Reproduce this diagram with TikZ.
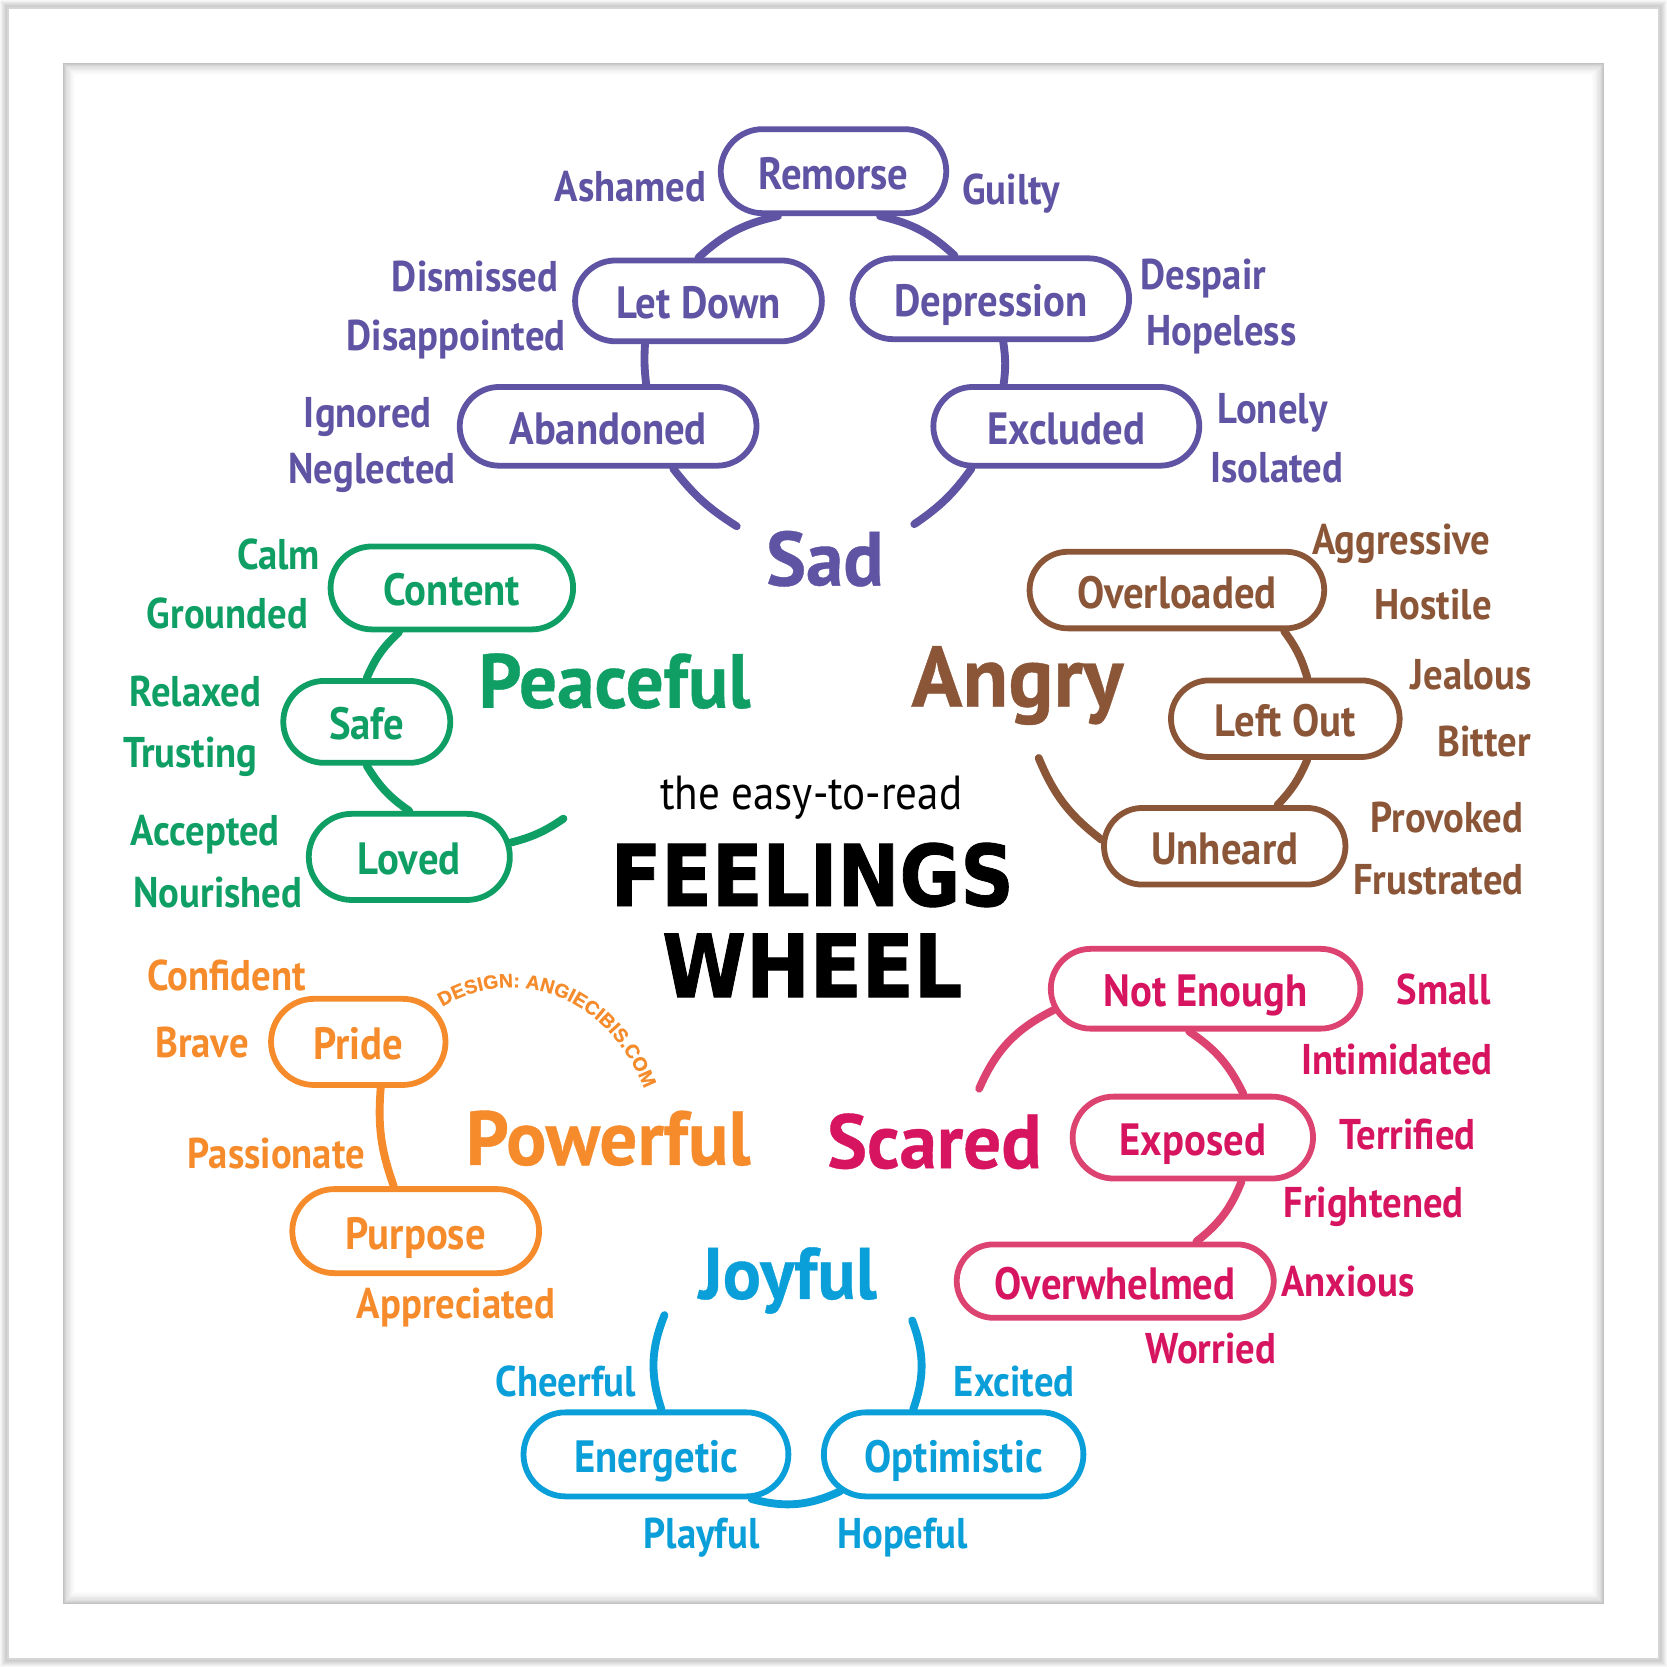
\documentclass[tikz,border=0pt]{standalone}
\usepackage{fontspec}
\usepackage{xcolor}
\usetikzlibrary{shapes.misc, positioning, decorations.text}
\setmainfont[FakeStretch=0.9]{PT Sans}
\newfontfamily\bigfont[FakeStretch=0.98,FakeBold=0.5]{PT Sans Bold}
\newfontfamily\titlefont[FakeStretch=0.87,FakeBold=1]{DejaVu Sans Bold}
\newfontfamily\creditfont[FakeBold=0.6]{Liberation Sans Bold}
\definecolor{sadc}{HTML}{5F53A3}
\definecolor{peacec}{HTML}{0F9F65}
\definecolor{angryc}{HTML}{8B5638}
\definecolor{scaredc}{HTML}{D6145F}
\definecolor{scaredl}{HTML}{DC4370}
\definecolor{joyc}{HTML}{0A9FD8}
\definecolor{powerc}{HTML}{F68B2C}
\tikzset{
  pill/.style={rounded rectangle, draw, line width=1.55pt, inner sep=0pt, text height=9.6pt, text depth=0pt, font=\fontsize{12.1}{14}\selectfont\bfseries},
  word/.style={inner sep=0pt, text height=7.6pt, text depth=0pt, font=\fontsize{11.5}{14}\selectfont\bfseries},
  big/.style={inner sep=0pt, text height=13.5pt, text depth=0pt, font=\bigfont\fontsize{20.5}{24}\selectfont},
  arcline/.style={line width=2.1pt, line cap=round}
}
\begin{document}
\begin{tikzpicture}[x=0.01cm, y=0.01cm]
\useasboundingbox (0,-1568) rectangle (1568,0);
% Paper and frame shadows
\fill[white] (0,-1568) rectangle (1568,0);
\foreach \i/\k in {0/3,1/6,2/9,3/12,4/15,5/18,6/20,7/16} {
  \draw[black!\k, line width=0.3pt] (\i+0.5,-\i-0.5) rectangle (1567.5-\i,-1567.5+\i);
}
\foreach \i/\k in {0/24,1/20,2/16,3/13,4/10,5/8,6/6,7/4,8/3,9/2,10/1} {
  \draw[black!\k, line width=0.3pt] (60+\i,-60-\i) rectangle (1508-\i,-1508+\i);
}

% Sad
\node[pill, sadc, text=sadc, minimum width=2.12cm, minimum height=0.79cm] (remorse) at (784,-161) {Remorse};
\node[pill, sadc, text=sadc, minimum width=2.32cm, minimum height=0.76cm] (letdown) at (657,-283) {Let Down};
\node[pill, sadc, text=sadc, minimum width=2.60cm, minimum height=0.76cm] (depression) at (932,-281) {Depression};
\node[pill, sadc, text=sadc, minimum width=2.79cm, minimum height=0.74cm] (abandoned) at (572,-401) {Abandoned};
\node[pill, sadc, text=sadc, minimum width=2.50cm, minimum height=0.74cm] (excluded) at (1003,-401) {Excluded};
\coordinate (sadleft) at (693,-495);
\coordinate (sadright) at (860,-493);
\draw[arcline, sadc] (remorse.219) to[bend right=15] (letdown.north);
\draw[arcline, sadc] (remorse.316) to[bend left=15] (depression.130);
\draw[arcline, sadc] (letdown.219) to[bend right=5] (abandoned.48);
\draw[arcline, sadc] (depression.286) to[bend left=8] (excluded.146);
\draw[arcline, sadc] (abandoned.327) to[bend right=10] (sadleft);
\draw[arcline, sadc] (excluded.204) to[bend left=10] (sadright);
\node[big, text=sadc] (sad) at (776,-527) {Sad};
\node[word, text=sadc] (ashamed) at (593,-176) {Ashamed};
\node[word, text=sadc] (guilty) at (951,-179) {Guilty};
\node[word, text=sadc] (dismissed) at (447,-261) {Dismissed};
\node[word, text=sadc] (disappointed) at (429,-316) {Disappointed};
\node[word, text=sadc] (despair) at (1132,-259) {Despair};
\node[word, text=sadc] (hopeless) at (1149,-312) {Hopeless};
\node[word, text=sadc] (ignored) at (346,-389) {Ignored};
\node[word, text=sadc] (neglected) at (350,-441) {Neglected};
\node[word, text=sadc] (lonely) at (1197,-385) {Lonely};
\node[word, text=sadc] (isolated) at (1201,-440) {Isolated};

% Peaceful
\node[pill, peacec, text=peacec, minimum width=2.28cm, minimum height=0.78cm] (content) at (425,-553) {Content};
\node[pill, peacec, text=peacec, minimum width=1.57cm, minimum height=0.77cm] (safe) at (345,-679) {Safe};
\node[pill, peacec, text=peacec, minimum width=1.89cm, minimum height=0.81cm] (loved) at (385,-806) {Loved};
\coordinate (peacefree) at (530,-770);
\draw[arcline, peacec] (content.220) to[bend right=12] (safe.north);
\draw[arcline, peacec] (safe.south) to[bend right=12] (loved.north);
\draw[arcline, peacec] (loved.8) to[bend right=10] (peacefree);
\node[big, text=peacec] (peaceful) at (578,-642) {Peaceful};
\node[word, text=peacec] (calm) at (262,-522) {Calm};
\node[word, text=peacec] (grounded) at (214,-578) {Grounded};
\node[word, text=peacec] (relaxed) at (184,-651) {Relaxed};
\node[word, text=peacec] (trusting) at (179,-709) {Trusting};
\node[word, text=peacec] (accepted) at (193,-782) {Accepted};
\node[word, text=peacec] (nourished) at (205,-840) {Nourished};

% Angry
\node[pill, angryc, text=angryc, minimum width=2.77cm, minimum height=0.72cm] (overloaded) at (1107,-555) {Overloaded};
\node[pill, angryc, text=angryc, minimum width=2.15cm, minimum height=0.72cm] (leftout) at (1209,-676) {Left Out};
\node[pill, angryc, text=angryc, minimum width=2.27cm, minimum height=0.72cm] (unheard) at (1152,-796) {Unheard};
\coordinate (angryfree) at (977,-713);
\draw[arcline, angryc] (overloaded.339) to[bend left=10] (leftout.62);
\draw[arcline, angryc] (leftout.298) to[bend left=10] (unheard.38);
\draw[arcline, angryc] (unheard.177) to[bend left=15] (angryfree);
\node[big, text=angryc, font=\bigfont\fontsize{23}{26}\selectfont] (angry) at (957,-641) {Angry};
\node[word, text=angryc] (aggressive) at (1318,-508) {Aggressive};
\node[word, text=angryc] (hostile) at (1348,-569) {Hostile};
\node[word, text=angryc] (jealous) at (1384,-635) {Jealous};
\node[word, text=angryc] (bitter) at (1396,-698) {Bitter};
\node[word, text=angryc] (provoked) at (1361,-770) {Provoked};
\node[word, text=angryc] (frustrated) at (1353,-828) {Frustrated};

% Scared
\node[pill, scaredl, text=scaredc, minimum width=2.91cm, minimum height=0.75cm] (notenough) at (1134,-930) {Not Enough};
\node[pill, scaredl, text=scaredc, minimum width=2.26cm, minimum height=0.77cm] (exposed) at (1122,-1070) {Exposed};
\node[pill, scaredl, text=scaredc, minimum width=2.98cm, minimum height=0.69cm] (overwhelmed) at (1049,-1205) {Overwhelmed};
\coordinate (scaredfree) at (921,-1024);
\draw[arcline, scaredl] (notenough.188) to[bend right=20] (scaredfree);
\draw[arcline, scaredl] (notenough.249) to[bend left=15] (exposed.41);
\draw[arcline, scaredl] (exposed.318) to[bend left=15] (overwhelmed.26);
\node[big, text=scaredc] (scared) at (879,-1075) {Scared};
\node[word, text=scaredc] (small) at (1358,-931) {Small};
\node[word, text=scaredc] (intimidated) at (1314,-997) {Intimidated};
\node[word, text=scaredc] (terrified) at (1324,-1068) {Terrified};
\node[word, text=scaredc] (frightened) at (1292,-1132) {Frightened};
\node[word, text=scaredc] (anxious) at (1268,-1206) {Anxious};
\node[word, text=scaredc] (worried) at (1139,-1269) {Worried};

% Joyful
\node[pill, joyc, text=joyc, minimum width=2.49cm, minimum height=0.79cm] (energetic) at (617,-1368) {Energetic};
\node[pill, joyc, text=joyc, minimum width=2.44cm, minimum height=0.79cm] (optimistic) at (897,-1368) {Optimistic};
\coordinate (joyleft) at (625,-1237);
\coordinate (joyright) at (858,-1242);
\draw[arcline, joyc] (joyleft) to[bend right=20] (energetic.83);
\draw[arcline, joyc] (energetic.335) to[bend right=20] (optimistic.198);
\draw[arcline, joyc] (optimistic.132) to[bend right=20] (joyright);
\node[big, text=joyc, font=\bigfont\fontsize{19.5}{24}\selectfont] (joyful) at (741,-1198) {Joyful};
\node[word, text=joyc] (cheerful) at (532,-1300) {Cheerful};
\node[word, text=joyc] (excited) at (954,-1300) {Excited};
\node[word, text=joyc] (playful) at (660,-1443) {Playful};
\node[word, text=joyc] (hopeful) at (849,-1443) {Hopeful};

% Powerful
\node[pill, powerc, text=powerc, minimum width=1.64cm, minimum height=0.81cm] (pride) at (337,-980) {Pride};
\node[pill, powerc, text=powerc, minimum width=2.32cm, minimum height=0.79cm] (purpose) at (391,-1158) {Purpose};
\draw[arcline, powerc] (pride.296) to[bend right=12] (purpose.116);
\node[big, text=powerc] (powerful) at (572,-1072) {Powerful};
\node[word, text=powerc] (confident) at (213,-918) {Confident};
\node[word, text=powerc] (brave) at (190,-981) {Brave};
\node[word, text=powerc] (passionate) at (260,-1086) {Passionate};
\node[word, text=powerc] (appreciated) at (429,-1227) {Appreciated};

% Title
\node[inner sep=0pt, font=\fontsize{12.8}{15}\selectfont] (easy) at (763,-750) {the easy-to-read};
\node[inner sep=0pt, font=\titlefont\fontsize{22.8}{26}\selectfont] (feelings) at (764,-823) {FEELINGS};
\node[inner sep=0pt, font=\titlefont\fontsize{23.4}{26}\selectfont] (wheel) at (764,-908) {WHEEL};

% Credit along the arc
\path[decorate, decoration={text along path, text color=powerc,
    text={|\creditfont\fontsize{5.2}{6}\selectfont|DESIGN: ANGIECIBIS.COM}}]
  (416,-947) .. controls (480,-908) and (568,-930) .. (606,-1024);
\end{tikzpicture}
\end{document}
